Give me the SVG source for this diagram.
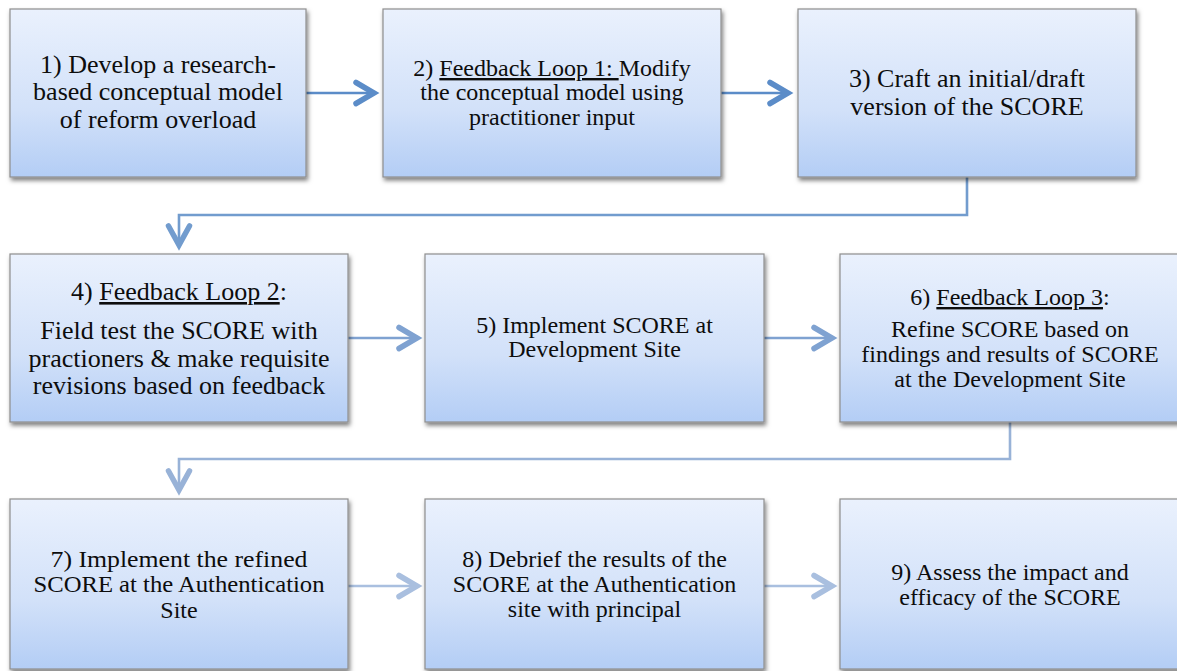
<svg xmlns="http://www.w3.org/2000/svg" width="1177" height="671" viewBox="0 0 1177 671" font-family="Liberation Serif, serif">
  <defs>
    <linearGradient id="boxFill" x1="0" y1="0" x2="0" y2="1">
      <stop offset="0" stop-color="#eaf1fd"/>
      <stop offset="0.6" stop-color="#d2e1f9"/>
      <stop offset="1" stop-color="#b3cdf5"/>
    </linearGradient>
    <filter id="shadow" x="-5%" y="-5%" width="115%" height="120%">
      <feDropShadow dx="1.5" dy="3" stdDeviation="2.2" flood-color="#000" flood-opacity="0.5"/>
    </filter>
  </defs>
  <style>
    .box { fill: url(#boxFill); stroke: #8e8e8e; stroke-width: 1.2; filter: url(#shadow); }
    .t { fill: #0d0d0d; text-anchor: middle; }
    .f26 { font-size: 26px; }
    .f24 { font-size: 24px; }
    .u { text-decoration: underline; }
    .ln { fill: none; stroke-width: 2.6; }
    .hd { fill: none; stroke-width: 5.5; stroke-linecap: round; stroke-linejoin: miter; }
    .c1 { stroke: #5b8cc8; }
    .k1 { stroke: #729cce; }
    .c2 { stroke: #7fa2d1; }
    .k2 { stroke: #98b2d7; }
    .c3 { stroke: #a9bfdf; }
  </style>

  <g id="connectors">
    <line class="ln c1" x1="306" y1="93" x2="373" y2="93"/>
    <polyline class="hd c1" points="356,82.5 374,93 356,103.5"/>
    <line class="ln c1" x1="721" y1="93" x2="787" y2="93"/>
    <polyline class="hd c1" points="770,82.5 788,93 770,103.5"/>
    <polyline class="ln k1" points="967,177 967,215 179,215 179,245"/>
    <polyline class="hd k1" points="168.5,226 179,245 189.5,226"/>
    <line class="ln c2" x1="348" y1="338" x2="416" y2="338"/>
    <polyline class="hd c2" points="399,327.5 417,338 399,348.5"/>
    <line class="ln c2" x1="764" y1="338" x2="831" y2="338"/>
    <polyline class="hd c2" points="814,327.5 832,338 814,348.5"/>
    <polyline class="ln k2" points="1010,422 1010,459 179,459 179,490"/>
    <polyline class="hd k2" points="168.5,471 179,490 189.5,471"/>
    <line class="ln c3" x1="348" y1="586" x2="416" y2="586"/>
    <polyline class="hd c3" points="399,575.5 417,586 399,596.5"/>
    <line class="ln c3" x1="764" y1="586" x2="831" y2="586"/>
    <polyline class="hd c3" points="814,575.5 832,586 814,596.5"/>
  </g>

  <g id="node1">
    <rect class="box" x="10" y="9" width="296" height="168"/>
    <text class="t f26" x="158" y="73">1) Develop a research-</text>
    <text class="t f26" x="158" y="100">based conceptual model</text>
    <text class="t f26" x="158" y="128">of reform overload</text>
  </g>

  <g id="node2">
    <rect class="box" x="383" y="9" width="338" height="168"/>
    <text class="t f24" x="552" y="76">2) <tspan class="u">Feedback Loop 1: </tspan>Modify</text>
    <text class="t f24" x="552" y="100">the conceptual model using</text>
    <text class="t f24" x="552" y="125">practitioner input</text>
  </g>

  <g id="node3">
    <rect class="box" x="798" y="9" width="338" height="168"/>
    <text class="t f26" x="967" y="87">3) Craft an initial/draft</text>
    <text class="t f26" x="967" y="115">version of the SCORE</text>
  </g>

  <g id="node4">
    <rect class="box" x="10" y="254" width="338" height="168"/>
    <text class="t f26" x="179" y="300">4) <tspan class="u">Feedback Loop 2</tspan>:</text>
    <text class="t f26" x="179" y="339">Field test the SCORE with</text>
    <text class="t f26" x="179" y="367">practioners &amp; make requisite</text>
    <text class="t f26" x="179" y="394">revisions based on feedback</text>
  </g>

  <g id="node5">
    <rect class="box" x="425" y="254" width="339" height="168"/>
    <text class="t f24" x="594.5" y="333">5) Implement SCORE at</text>
    <text class="t f24" x="594.5" y="357">Development Site</text>
  </g>

  <g id="node6">
    <rect class="box" x="840" y="254" width="340" height="168"/>
    <text class="t f24" x="1010" y="305">6) <tspan class="u">Feedback Loop 3</tspan>:</text>
    <text class="t f24" x="1010" y="337">Refine SCORE based on</text>
    <text class="t f24" x="1010" y="362">findings and results of SCORE</text>
    <text class="t f24" x="1010" y="387">at the Development Site</text>
  </g>

  <g id="node7">
    <rect class="box" x="10" y="499" width="338" height="170"/>
    <text class="t f24" x="179" y="567" textLength="257" lengthAdjust="spacingAndGlyphs">7) Implement the refined</text>
    <text class="t f24" x="179" y="592" textLength="291" lengthAdjust="spacingAndGlyphs">SCORE at the Authentication</text>
    <text class="t f24" x="179" y="618">Site</text>
  </g>

  <g id="node8">
    <rect class="box" x="425" y="499" width="339" height="170"/>
    <text class="t f24" x="594.5" y="567">8) Debrief the results of the</text>
    <text class="t f24" x="594.5" y="592">SCORE at the Authentication</text>
    <text class="t f24" x="594.5" y="617">site with principal</text>
  </g>

  <g id="node9">
    <rect class="box" x="840" y="499" width="340" height="170"/>
    <text class="t f24" x="1010" y="580">9) Assess the impact and</text>
    <text class="t f24" x="1010" y="605">efficacy of the SCORE</text>
  </g>
</svg>
